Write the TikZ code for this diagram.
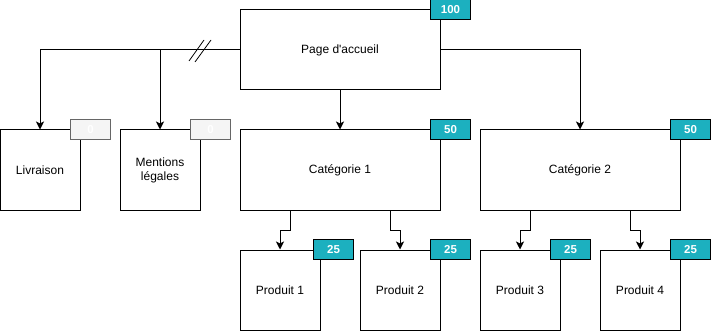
\documentclass[tikz,border=0pt]{standalone}
\usepackage{fontspec}
\setmainfont{Liberation Sans}
\usetikzlibrary{arrows.meta,positioning,calc}
\definecolor{badgeteal}{RGB}{28,176,191}
\definecolor{badgegray}{RGB}{245,245,245}
\definecolor{badgeline}{RGB}{102,102,102}
\tikzset{
  page/.style    = {draw,line width=1pt,fill=white,align=center,inner sep=0pt,
                    font=\fontsize{12}{14}\selectfont},
  bigpage/.style = {page,minimum width=200pt,minimum height=80pt},
  smallpage/.style = {page,minimum width=80pt,minimum height=80pt},
  badge/.style   = {draw=black,line width=1pt,fill=badgeteal,text=white,
                    minimum width=40pt,minimum height=20pt,inner sep=0pt,
                    font=\fontsize{11.5}{12}\selectfont\bfseries},
  nobadge/.style = {badge,draw=badgeline,fill=badgegray},
  arrow/.style   = {-{Stealth[length=8pt,width=8pt,inset=2pt]},line width=1pt},
}
\begin{document}
\begin{tikzpicture}[x=1pt,y=-1pt]
  \useasboundingbox[fill=white] (0,0) rectangle (711,331);
  % pages
  \node[bigpage]   (home) at (340,50)  {Page d\textquotesingle accueil};
  \node[smallpage] (liv)  at (40,170)  {Livraison};
  \node[smallpage] (ment) at (160,170) {Mentions\\légales};
  \node[bigpage]   (cat1) at (340,170) {Catégorie 1};
  \node[bigpage]   (cat2) at (580,170) {Catégorie 2};
  \node[smallpage] (p1)   at (280,290) {Produit 1};
  \node[smallpage] (p2)   at (400,290) {Produit 2};
  \node[smallpage] (p3)   at (520,290) {Produit 3};
  \node[smallpage] (p4)   at (640,290) {Produit 4};
  % badges
  \node[badge]   (bhome) at ([xshift=10pt]home.north east) {100};
  \node[nobadge] (bliv)  at ([xshift=10pt]liv.north east)  {0};
  \node[nobadge] (bment) at ([xshift=10pt]ment.north east) {0};
  \node[badge]   (bcat1) at ([xshift=10pt]cat1.north east) {50};
  \node[badge]   (bcat2) at ([xshift=10pt]cat2.north east) {50};
  \node[badge]   (bp1)   at ([xshift=13pt]p1.north east)   {25};
  \node[badge]   (bp2)   at ([xshift=10pt]p2.north east)   {25};
  \node[badge]   (bp3)   at ([xshift=10pt]p3.north east)   {25};
  \node[badge]   (bp4)   at ([xshift=10pt]p4.north east)   {25};
  % links
  \draw[arrow] (home.west) -| (liv.north);
  \draw[arrow] (ment.north |- home.west) -- (ment.north);
  \draw[arrow] (home.south) -- (cat1.north);
  \draw[arrow] (home.east) -| (cat2.north);
  \draw[arrow] ([xshift=-50pt]cat1.south) -- ++(0,20) -| (p1.north);
  \draw[arrow] ([xshift=50pt]cat1.south)  -- ++(0,20) -| (p2.north);
  \draw[arrow] ([xshift=-50pt]cat2.south) -- ++(0,20) -| (p3.north);
  \draw[arrow] ([xshift=50pt]cat2.south)  -- ++(0,20) -| (p4.north);
  % break mark
  \draw[line width=0.8pt] (189,61) -- (204,40);
  \draw[line width=0.8pt] (195,62) -- (211,40);
\end{tikzpicture}
\end{document}
